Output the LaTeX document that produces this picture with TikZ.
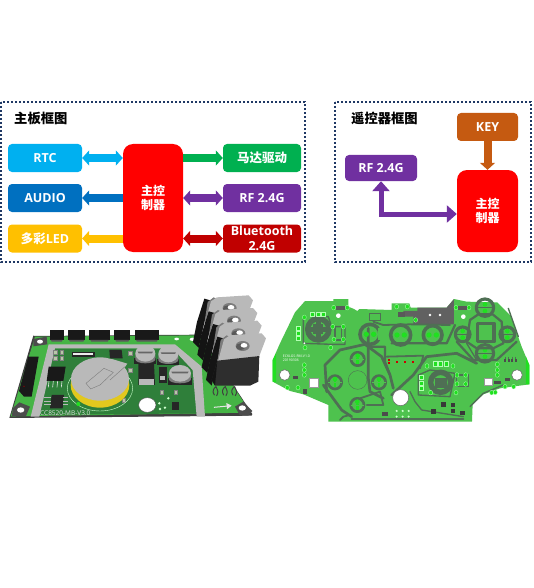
\documentclass[tikz,border=0pt]{standalone}
\usepackage{fontspec}
\setmainfont{Open Sans}
\newfontfamily\cjk{Noto Sans CJK SC}
\usetikzlibrary{arrows.meta,positioning,calc}
\definecolor{navyf}{HTML}{1F3864}
\definecolor{cRTC}{HTML}{00B0F0}
\definecolor{cAUD}{HTML}{0070C0}
\definecolor{cLED}{HTML}{FFC000}
\definecolor{cGRN}{HTML}{00B050}
\definecolor{cPUR}{HTML}{7030A0}
\definecolor{cDRD}{HTML}{C00000}
\definecolor{cRED}{HTML}{FF0000}
\definecolor{cKEY}{HTML}{C55A11}
\definecolor{pcbA}{HTML}{4EC24E}
\definecolor{pcbB}{HTML}{45B445}
\definecolor{padg}{HTML}{20E020}
\definecolor{trc}{HTML}{4F6F54}
\definecolor{trcb}{HTML}{2F7F3A}
\definecolor{metal}{HTML}{B9B9B9}
\definecolor{metald}{HTML}{7C7C7C}
\definecolor{gold}{HTML}{E2C81E}
\definecolor{partc}{HTML}{B9C8A8}
\tikzset{
  frameline/.style={draw=navyf,line width=2pt,dash pattern=on 2pt off 2pt},
  blk/.style={rounded corners=4pt,minimum width=74pt,minimum height=28pt,inner sep=0pt,text=white,font=\bfseries\fontsize{12.5}{14.5}\selectfont,align=center},
  ctrl/.style={rounded corners=10pt,fill=cRED,inner sep=0pt,text=white,font=\cjk\bfseries\fontsize{12}{14.5}\selectfont,align=center},
  ttl/.style={inner sep=0pt,text=black,font=\cjk\bfseries\fontsize{13.3}{15}\selectfont},
  fat/.style={line width=8pt,draw=#1,{Triangle[length=7pt,width=15pt,#1]}-{Triangle[length=7pt,width=15pt,#1]}},
  fatr/.style={line width=8pt,draw=#1,-{Triangle[length=7pt,width=15pt,#1]}},
  fatl/.style={line width=8pt,draw=#1,{Triangle[length=7pt,width=15pt,#1]}-},
  trace/.style={draw=trc,line width=#1*.45pt,line cap=round,line join=round},
  trace/.default=5,
  padr/.style={fill=padg,draw=white!70!green,line width=.3pt},
  zoomL/.style={shift={(0,285)},x=.3333pt,y=-.3333pt},
  zoomR/.style={shift={(270,285)},x=.3333pt,y=-.3333pt},
}
\begin{document}
\begin{tikzpicture}[x=1pt,y=-1pt]
\useasboundingbox (0,0) rectangle (533,588);
\fill[white] (0,0) rectangle (533,588);
% frames
\draw[frameline] (1,102) rectangle (305,262);
\draw[frameline] (335,102) rectangle (531,262);
\node[ttl,anchor=west] (t1) at (14,118) {主板框图};
\node[ttl,anchor=west] (t2) at (351,118) {遥控器框图};
% left diagram
\node[blk,fill=cRTC] (rtc) at (45,158) {RTC};
\node[blk,fill=cAUD] (aud) at (45,198) {AUDIO};
\node[blk,fill=cLED] (led) at (45,238.5) {{\cjk 多彩}LED};
\node[ctrl,minimum width=60pt,minimum height=108pt] (mc) at (153,198) {主控\\制器};
\node[blk,fill=cGRN,minimum width=78pt] (mot) at (262,158) {\cjk 马达驱动};
\node[blk,fill=cPUR,minimum width=78pt] (rf) at (262,198) {RF 2.4G};
\node[blk,fill=cDRD,minimum width=78pt] (bt) at (262,238.5) {Bluetooth\\2.4G};
\draw[fat=cRTC] (rtc.east) -- (mc.west |- rtc.east);
\draw[fatl=cAUD] (aud.east) -- (mc.west |- aud.east);
\draw[fatl=cLED] (led.east) -- (mc.west |- led.east);
\draw[fatr=cGRN] (mc.east |- mot.west) -- (mot.west);
\draw[fat=cPUR] (mc.east |- rf.west) -- (rf.west);
\draw[fat=cDRD] (mc.east |- bt.west) -- (bt.west);
% right diagram
\node[blk,fill=cKEY,minimum width=61pt] (key) at (487.5,127) {KEY};
\node[ctrl,minimum width=61pt,minimum height=82pt] (mc2) at (487.5,211) {主控\\制器};
\node[blk,fill=cPUR,minimum width=72pt,minimum height=26pt] (rf2) at (381,168) {RF 2.4G};
\draw[fatr=cKEY] (key.south) -- (mc2.north);
\coordinate (bend) at (rf2.south |- 0,214);
\draw[line width=5pt,draw=cPUR,line join=miter,{Triangle[length=10pt,width=17pt,cPUR]}-{Triangle[length=10pt,width=17pt,cPUR]}] (rf2.south) -- (bend) -- (mc2.west |- bend);
% ---------- motor board ----------
\begin{scope}[zoomL]
\fill[black!75] (28,399) -- (100,152) -- (105,153) -- (600,149) -- (757,387) -- (755,392) -- cycle;
\fill[pcbB] (32,394) -- (105,155) -- (600,151) -- (752,383) -- cycle;
\fill[trcb] (160,190) -- (520,190) -- (590,250) -- (600,385) -- (115,390) -- cycle;
\fill[metal] (146,178) -- (525,178) -- (605,245) -- (615,395) -- (590,395) -- (578,255) -- (517,190) -- (165,190) -- (118,395) -- (92,395) -- cycle;
% mount holes
\fill[black!70] (100,162) -- (140,155) -- (142,178) -- (100,184) -- cycle;
\fill[white] (120,170) ellipse (9 and 6);
\fill[black!70] (38,370) -- (58,352) -- (90,365) -- (78,393) -- (36,393) -- cycle;
\fill[white] (62,375) ellipse (11 and 8);
\fill[black!70] (705,365) -- (730,350) -- (757,378) -- (745,392) -- (720,392) -- cycle;
\fill[white] (727,369) ellipse (11 and 8);
\fill[white] (578,163) ellipse (9 and 5);
\fill[white] (530,162) ellipse (7 and 4);
% top connectors
\foreach \a/\b in {149/191,204/256,268/329,343/391,405/476}{
  \fill[black!90] (\a,135) rectangle (\b,165);
  \fill[black!65] (\a+3,165) -- (\b-3,165) -- (\b-6,170) -- (\a+6,170) -- cycle;
}
% left connector
\fill[black!90] (85,215) -- (116,215) -- (95,335) -- (72,335) -- (57,318) -- cycle;
\fill[red!70!black] (72,304) circle (2);
% ICs
\fill[black!90] (146,245) -- (197,245) -- (190,288) -- (140,288) -- cycle;
\foreach \x in {147,160,173,186} \draw[line width=.6pt,draw=white!80!gray] (\x,288) -- (\x-2,307);
\fill[black!85] (155,330) -- (192,330) -- (188,370) -- (150,370) -- cycle;
\foreach \y in {338,348,358} {\draw[line width=.5pt,draw=metal] (133,\y) -- (153,\y); \draw[line width=.5pt,draw=metal] (190,\y) -- (205,\y);}
% fpc
\fill[black!85] (215,200) rectangle (285,215);
\fill[white!85!gray] (220,204) rectangle (280,211);
\fill[black!85] (328,195) -- (365,195) -- (368,220) -- (330,220) -- cycle;
% small parts
\foreach \x/\y in {165/200,185/200,165/220,185/220,485/322,527/322,390/205,390/255,370/345}
  \fill[partc,draw=black!50,line width=.2pt] (\x-5,\y-6) rectangle (\x+5,\y+6);
% battery ring
\draw[white!80!green,line width=.4pt] (300,310) ellipse (98 and 68);
\fill[padg] (235,357) circle (6);
% battery
\fill[gold] (300,300) ellipse (88 and 68);
\fill[gold] (212,283) rectangle (388,300);
\fill[metal] (300,282) ellipse (87 and 65);
\fill[metal] (336,222) -- (382,236) -- (360,268) -- cycle;
\draw[metald,line width=.4pt] (258,295) -- (312,250) -- (340,262) -- (300,300) -- (272,312) -- cycle;
\draw[metald,line width=.4pt] (330,285) -- (375,245);
% inductors + caps
\fill[black!85] (415,235) -- (462,235) -- (465,300) -- (415,300) -- cycle;
\fill[metal] (418,282) rectangle (462,300);
\fill[black!85] (476,247) rectangle (500,295);
\fill[metal] (481,272) rectangle (496,286);
\foreach \x/\y/\rr in {436/205/30,505/207/30,540/265/33}{
  \fill[black!85] (\x-\rr-3,\y+14) rectangle (\x+\rr+3,\y+\rr+2);
  \fill[metald] (\x-\rr,\y) -- (\x-\rr,\y+18) arc (180:0:{\rr} and 12) -- (\x+\rr,\y) -- cycle;
  \fill[metal] (\x,\y) ellipse ({\rr} and 25);
  \fill[black!60] (\x-\rr+7,\y-5) -- (\x+\rr-7,\y-5) -- (\x+\rr-10,\y) -- (\x-\rr+10,\y) -- cycle;
}
% hole and parts
\fill[white,draw=black!70,line width=.4pt] (442,360) ellipse (26 and 22);
\fill[black!85] (515,350) rectangle (537,376);
\foreach \x/\y in {478/355,495/368,480/372,505/340} \fill[white!80!green] (\x,\y) circle (4);
% arrow silk
\draw[white!80!gray,line width=1pt,-{Triangle[length=5pt,width=6pt]}] (642,367) -- (695,362);
% silk text
\node[inner sep=0pt,font=\fontsize{6.5}{8}\selectfont,text=white!75!gray,anchor=west] (silk) at (120,386) {CC8520-MB-V3.0};
% legs
\foreach \x in {648,676,704} \draw[line width=1pt,draw=black!75,line cap=round] (\x-5,330) .. controls (\x-12,320) and (\x-8,310) .. (\x,305) .. controls (\x+6,318) and (\x+8,322) .. (\x+2,332);
\end{scope}
% transistors
\begin{scope}[shift={(130,290)},x=.3333pt,y=-.3333pt]
\foreach \dx/\dy in {-39/-114,-26/-76,-13/-38,0/0}{
\begin{scope}[shift={(\dx,\dy)}]
\fill[black!92] (262,212) -- (280,145) -- (262,140) -- (240,210) -- (228,270) -- (245,287) -- cycle;
\fill[metald] (272,150) -- (290,136) -- (302,142) -- (285,200) -- (262,215) -- cycle;
\fill[metal] (282,148) -- (300,136) -- (395,130) -- (408,145) -- (388,198) -- (264,214) -- cycle;
\fill[metald] (338,168) ellipse (21 and 15);
\fill[black!65] (332,170) ellipse (14 and 10);
\fill[white] (342,166) ellipse (10 and 7);
\end{scope}}
\fill[black!82] (262,212) -- (388,198) -- (385,275) -- (360,287) -- (255,287) -- (245,270) -- cycle;
\fill[black!92] (245,270) -- (262,212) -- (255,287) -- cycle;
\end{scope}
% ---------- remote board ----------
\begin{scope}[zoomR]
\fill[pcbA] (105,48) -- (190,48) -- (190,42) -- (235,42) -- (235,65) -- (252,72) -- (262,78) -- (268,72) -- (365,75) -- (365,55) -- (418,55) -- (422,68) -- (530,68) -- (552,42) -- (590,50) -- (682,52) -- (722,92) -- (755,185) -- (778,240) -- (778,298) -- (690,310) -- (640,328) -- (608,358) -- (606,410) -- (175,410) -- (175,360) -- (100,328) -- (60,318) -- (8,290) -- (8,225) -- (30,175) -- (75,82) -- cycle;
\fill[padg] (8,290) -- (8,225) -- (18,205) -- (18,292) -- cycle;
\fill[padg] (778,298) -- (778,240) -- (768,215) -- (768,298) -- cycle;
% dark copper zone
\fill[black!62] (442,68) -- (530,68) -- (552,42) -- (552,118) -- (430,118) -- (430,95) -- (400,95) -- (400,78) -- (442,78) -- cycle;
\fill[white] (480,90) circle (4); \fill[white] (510,90) circle (4);
% long traces
\draw[trace=6] (170,320) -- (165,240) -- (210,195) -- (285,178) -- (335,215) -- (360,270) -- (370,310);
\draw[trace=6] (160,300) -- (215,375) -- (245,395);
\draw[trace=6] (295,130) -- (295,280) -- (300,320) -- (340,340);
\draw[trace=5] (300,185) -- (345,185) -- (345,230) -- (360,270);
\draw[trace=5] (365,175) -- (530,175) -- (555,120);
\draw[trace=6] (365,330) -- (430,270) -- (470,215) -- (560,205) -- (620,235);
\draw[trace=4] (350,215) -- (460,212) -- (450,250);
\draw[trace=5] (245,402) -- (580,402);
\draw[trace=4] (210,405) -- (220,395) -- (240,390);
\draw[trace=4] (270,340) -- (330,320) -- (340,360) -- (290,360);
\draw[trace=4] (540,120) -- (420,118) -- (340,120) -- (310,110);
\draw[trace=3] (595,125) -- (590,175) -- (620,225);
\draw[trace=3] (420,320) -- (435,350) -- (455,375) -- (580,395);
\draw[trace=3] (600,365) -- (640,325) -- (700,300);
% left joystick
\draw[trace=12] (145,133) circle (32);
\fill[trc] (130,118) rectangle (160,148);
\fill[trc] (108,126) rectangle (182,140);
\fill[trc] (138,100) rectangle (152,170);
\draw[trace=3] (100,100) -- (100,175) -- (185,178) -- (225,178) -- (225,125) -- (185,125);
\draw[trace=3] (125,95) -- (175,95) -- (185,125);
\draw[trace=3] (195,125) rectangle (215,165);
\foreach \x in {127,143,159} \fill[padr] (\x-6,81) rectangle (\x+6,93);
\foreach \x/\y in {85/128,85/144,85/160} \fill[padr] (\x-6,\y-6) rectangle (\x+6,\y+6);
\foreach \x/\y in {103/97,188/125,220/125,192/163,220/163,182/188,105/188,103/240,103/255,103/270,191/68,232/68,380/65,412/65,437/105}
  \fill[padr] (\x,\y) ellipse (6 and 7);
\fill[white] (205,92) circle (7);
\fill[white] (103,175) circle (3);
\fill[black!65] (198,62) rectangle (226,76);
% top trio dome pads
\foreach \x/\y/\rr in {300/148/30,392/150/30,488/150/28}{
  \draw[trace=8] (\x,\y) circle ({\rr});
  \fill[padg] (\x-11,\y) circle (8);
  \fill[padg] (\x+11,\y) circle (8);
}
\fill[pcbA] (325,130) rectangle (335,165);
\draw[trc,line width=.5pt] (298,84) rectangle (332,106);
% right d-pad domes
\foreach \x/\y/\rr in {645/68/26,645/205/26,578/148/22,712/148/22}{
  \draw[trace=7] (\x,\y) circle ({\rr});
  \fill[padg] (\x,\y-10) circle (7);
  \fill[padg] (\x,\y+10) circle (7);
  \draw[trc,line width=.5pt] (\x-\rr,\y) -- (\x+\rr,\y);
}
\draw[trace=8] (622,115) rectangle (672,170);
\draw[trace=5] (600,105) -- (625,88) -- (668,88) -- (695,110) -- (700,175) -- (670,190) -- (620,190) -- (590,170) -- cycle;
\draw[trace=5] (560,170) -- (610,225) -- (680,225) -- (740,170);
\draw[trace=3] (715,70) -- (745,155);
% left lower domes
\foreach \x/\y/\rr in {263/222/20,195/292/20,327/292/20,262/360/20}{
  \draw[trace=6] (\x,\y) circle ({\rr});
  \fill[padg] (\x-4,\y-3) rectangle (\x+4,\y+14);
  \fill[padg] (\x,\y-10) circle (7);
  \draw[pcbA,line width=.7pt] (\x-\rr,\y) -- (\x+\rr,\y);
}
\fill[pcbA,draw=trc,line width=.4pt] (263,285) circle (28);
% holes
\fill[white,draw=black!60,line width=.5pt] (44,270) circle (16);
\fill[white,draw=black!60,line width=.5pt] (741,270) circle (16);
\fill[white,draw=black!60,line width=.5pt] (392,338) circle (24);
\fill[white,draw=black!40,line width=.6pt] (118,281) rectangle (145,308);
\fill[white,draw=black!40,line width=.6pt] (644,281) rectangle (666,302);
% right joystick
\draw[trace=12] (512,292) circle (30);
\fill[trc] (495,278) rectangle (530,308);
\draw[trace=3] (445,270) -- (445,330) -- (540,335) -- (555,265) -- (480,255) -- cycle;
\draw[trace=3] (560,270) rectangle (595,305);
\foreach \x in {495,511,527} \fill[padr] (\x-6,229) rectangle (\x+6,242);
\foreach \x/\y in {453/277,453/293,453/309} \fill[padr] (\x-6,\y-6) rectangle (\x+6,\y+6);
\foreach \x/\y in {471/243,549/243,561/270,587/270,561/297,587/297,482/323,558/323,558/68,597/68,682/238,682/255,682/270,665/323,676/322,705/305,731/305,52/308,84/308}
  \fill[padr] (\x,\y) ellipse (6 and 7);
\fill[white] (580,95) circle (7);
\fill[black!65] (565,62) rectangle (590,76);
\fill[black!70] (70,272) rectangle (84,282);
\fill[black!70] (100,312) rectangle (110,326);
\fill[black!70] (705,280) rectangle (720,288);
\fill[black!70] (672,288) rectangle (692,298);
% red pads
\foreach \x/\y in {358/224,358/234,381/231,405/231,428/231} \fill[red!80!black] (\x-3,\y-3) rectangle (\x+3,\y+3);
% right header
\foreach \x in {706,716,726,737} {\fill[black!70] (\x-3,222) rectangle (\x+3,232); \draw[trc,line width=.4pt] (\x,215) -- (\x,222);}
% bottom small parts
\foreach \x in {380,398,416} \foreach \y in {378,395} \fill[white!80!green] (\x,\y) circle (3.5);
\foreach \x/\y in {549/360,549/378,578/384,520/358,490/380} \fill[black!78] (\x-7,\y-7) rectangle (\x+7,\y+7);
\fill[black!70] (335,380) rectangle (355,392);
\fill[black!65] (385,80) rectangle (405,95);
\node[inner sep=0pt,font=\fontsize{3.5}{4}\selectfont,text=white,align=left,anchor=west] (silkb) at (38,220) {ECKLGS-RM-V1.0\\20190306};
\end{scope}
\end{tikzpicture}
\end{document}
